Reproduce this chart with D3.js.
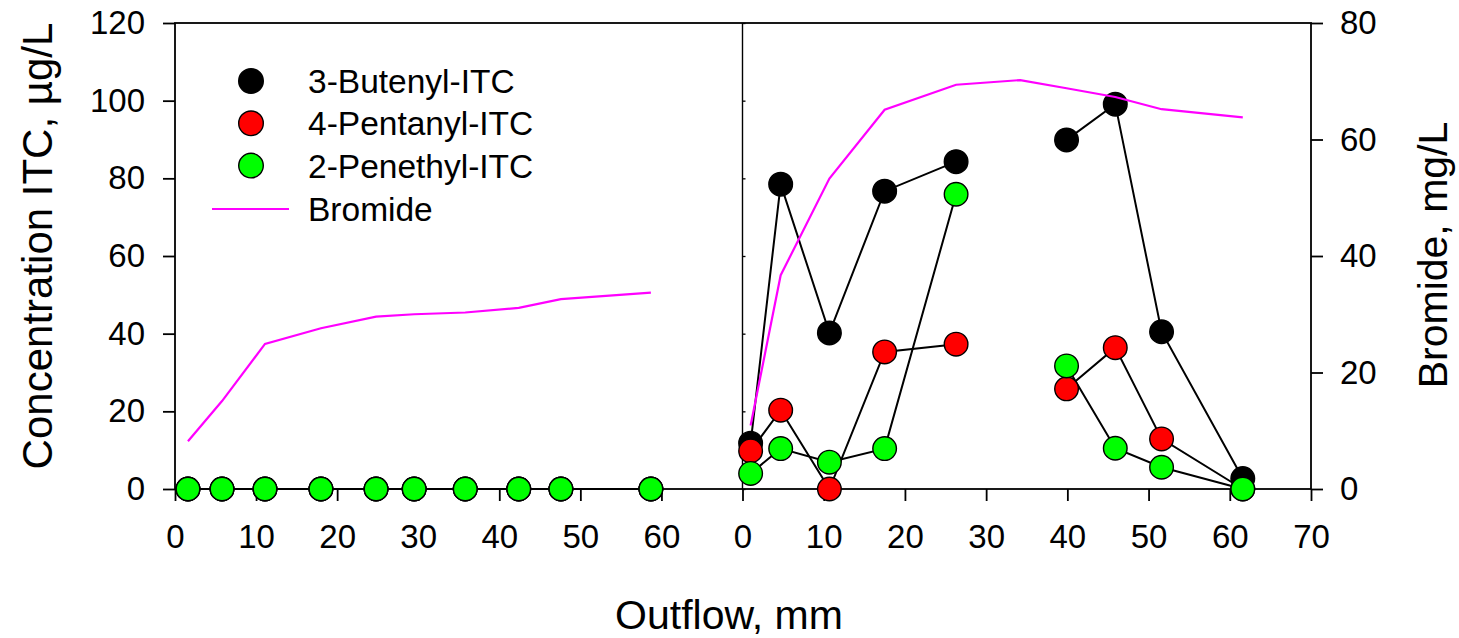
<!DOCTYPE html>
<html>
<head>
<meta charset="utf-8">
<script src="https://cdn.jsdelivr.net/npm/d3@7"></script>
<style>
  html, body { margin: 0; padding: 0; background: #fff; }
  svg { display: block; font-family: "Liberation Sans", Arial, sans-serif; }
  .tick text { font-size: 33px; fill: #000; }
  .tick line { stroke: #000; stroke-width: 1.8px; }
</style>
</head>
<body>
<svg id="chart" width="1459" height="638"></svg>
<script>
// Column 1: first leaching event; column 2: second event
const leftOutflow   = [1.6, 5.8, 11.1, 18.0, 24.8, 29.5, 35.8, 42.4, 47.6, 58.7];
const leftButenyl   = [0, 0, 0, 0, 0, 0, 0, 0, 0, 0];
const leftPentanyl  = [0, 0, 0, 0, 0, 0, 0, 0, 0, 0];
const leftPhenethyl = [0, 0, 0, 0, 0, 0, 0, 0, 0, 0];
const leftBromide   = [8.2, 15.1, 24.9, 27.6, 29.6, 30.0, 30.3, 31.1, 32.6, 33.7];

const rightOutflow   = [1.0, 4.7, 10.7, 17.5, 26.3, 34.2, 39.9, 45.9, 51.6, 61.6];
const rightButenyl   = [11.8, 78.5, 40.2, 76.7, 84.3, null, 89.9, 99.1, 40.5, 2.7];
const rightPentanyl  = [9.8, 20.3, 0, 35.3, 37.3, null, 25.8, 36.4, 12.9, 0];
const rightPhenethyl = [4.0, 10.4, 6.9, 10.4, 75.9, null, 31.7, 10.5, 5.6, 0];
const rightBromide   = [10.9, 36.7, 53.3, 65.1, 69.4, 70.2, 68.8, 67.3, 65.2, 63.8];

const leftTicks  = [0, 10, 20, 30, 40, 50, 60];
const rightTicks = [0, 10, 20, 30, 40, 50, 60, 70];
const itcTicks   = [0, 20, 40, 60, 80, 100, 120];
const brTicks    = [0, 20, 40, 60, 80];

const seriesNames  = ["3-Butenyl-ITC", "4-Pentanyl-ITC", "2-Penethyl-ITC"];
const seriesColors = ["#000000", "#ff0000", "#00ff00"];
const bromideName  = "Bromide";
const bromideColor = "#ff00ff";

const svg = d3.select("#chart");

const plot = { left: 175, right: 1311, top: 23, bottom: 489 };
const mid = 742.5;

const xL = d3.scaleLinear().domain([0, 70]).range([plot.left, mid]);
const xR = d3.scaleLinear().domain([0, 70]).range([mid, plot.right]);
const y  = d3.scaleLinear().domain([0, 120]).range([plot.bottom, plot.top]);
const yB = d3.scaleLinear().domain([0, 80]).range([plot.bottom, plot.top]);

// Axes
svg.append("g")
  .attr("transform", `translate(${plot.left},0)`)
  .call(d3.axisLeft(y).tickValues(itcTicks).tickSize(12).tickPadding(18).tickSizeOuter(0))
  .call(g => g.select(".domain").remove());

svg.append("g")
  .attr("transform", `translate(${plot.right},0)`)
  .call(d3.axisRight(yB).tickValues(brTicks).tickSize(12).tickPadding(17).tickSizeOuter(0))
  .call(g => g.select(".domain").remove());

svg.append("g")
  .attr("transform", `translate(0,${plot.bottom})`)
  .call(d3.axisBottom(xL).tickValues(leftTicks).tickSize(12).tickPadding(23.5).tickSizeOuter(0))
  .call(g => g.select(".domain").remove());

svg.append("g")
  .attr("transform", `translate(0,${plot.bottom})`)
  .call(d3.axisBottom(xR).tickValues(rightTicks).tickSize(12).tickPadding(23.5).tickSizeOuter(0))
  .call(g => g.select(".domain").remove());

// small inner ticks on the divider
svg.append("g")
  .attr("transform", `translate(${mid},0)`)
  .call(d3.axisRight(y).tickValues(itcTicks).tickSize(3).tickFormat(""))
  .call(g => g.select(".domain").remove())
  .selectAll("line").style("stroke-width", "1.3px");

// Frame
svg.append("rect")
  .attr("x", plot.left).attr("y", plot.top)
  .attr("width", plot.right - plot.left).attr("height", plot.bottom - plot.top)
  .attr("fill", "none").attr("stroke", "#000").attr("stroke-width", 1.8);
svg.append("line")
  .attr("x1", mid).attr("x2", mid).attr("y1", plot.top).attr("y2", plot.bottom)
  .attr("stroke", "#000").attr("stroke-width", 1.4);

// Build series
function pts(xs, vs) { return xs.map((x, i) => ({ x, v: vs[i] })); }
const panels = [
  { x: xL, series: [pts(leftOutflow, leftButenyl), pts(leftOutflow, leftPentanyl), pts(leftOutflow, leftPhenethyl)], br: pts(leftOutflow, leftBromide) },
  { x: xR, series: [pts(rightOutflow, rightButenyl), pts(rightOutflow, rightPentanyl), pts(rightOutflow, rightPhenethyl)], br: pts(rightOutflow, rightBromide) }
];

const lines = svg.append("g");
const marks = svg.append("g");
const brG = svg.append("g");

panels.forEach(p => {
  const line = d3.line().defined(d => d.v != null).x(d => p.x(d.x)).y(d => y(d.v));
  p.series.forEach(s => {
    lines.append("path").attr("d", line(s))
      .attr("fill", "none").attr("stroke", "#000").attr("stroke-width", 2);
  });
});

panels.forEach(p => {
  p.series.forEach((s, k) => {
    marks.append("g").selectAll("circle")
      .data(s.filter(d => d.v != null))
      .join("circle")
      .attr("cx", d => p.x(d.x)).attr("cy", d => y(d.v)).attr("r", 11.8)
      .attr("fill", seriesColors[k]).attr("stroke", "#000").attr("stroke-width", 1.4);
  });
  const bline = d3.line().x(d => p.x(d.x)).y(d => yB(d.v));
  brG.append("path").attr("d", bline(p.br))
    .attr("fill", "none").attr("stroke", bromideColor).attr("stroke-width", 2.2);
});

// Legend
const legend = svg.append("g");
seriesNames.forEach((name, i) => {
  const cy = 81 + i * 42.3;
  legend.append("circle").attr("cx", 251).attr("cy", cy).attr("r", 12.3)
    .attr("fill", seriesColors[i]).attr("stroke", "#000").attr("stroke-width", 1.4);
  legend.append("text").attr("x", 308).attr("y", cy + 12)
    .attr("font-size", 33.5).text(name);
});
legend.append("line").attr("x1", 212).attr("x2", 289).attr("y1", 209).attr("y2", 209)
  .attr("stroke", bromideColor).attr("stroke-width", 2.2);
legend.append("text").attr("x", 308).attr("y", 221).attr("font-size", 33.5).text(bromideName);

// Axis titles
svg.append("text").attr("x", 729).attr("y", 629).attr("text-anchor", "middle")
  .attr("font-size", 41).text("Outflow, mm");
svg.append("text").attr("transform", "translate(52,246) rotate(-90)")
  .attr("text-anchor", "middle").attr("font-size", 42).text("Concentration ITC, µg/L");
svg.append("text").attr("transform", "translate(1447,255) rotate(-90)")
  .attr("text-anchor", "middle").attr("font-size", 41).text("Bromide, mg/L");
</script>
</body>
</html>
